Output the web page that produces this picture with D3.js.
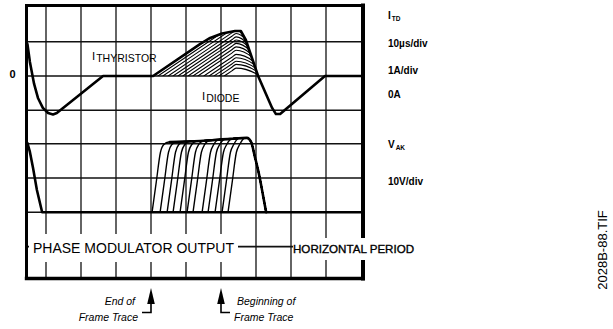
<!DOCTYPE html>
<html>
<head>
<meta charset="utf-8">
<script src="https://cdn.jsdelivr.net/npm/d3@7"></script>
<style>
  html, body { margin: 0; padding: 0; background: #fff; }
  svg { display: block; font-family: "Liberation Sans", Arial, Helvetica, sans-serif; }
</style>
</head>
<body>
<svg id="chart" width="613" height="329"></svg>
<script>
// ---------------- data (time in µs, current in A, voltage in V) ----------------
const gridTimesUs   = [10, 20, 30, 40, 50, 60, 70, 80, 90];
const currentGridA  = [1, 0, -1];
const voltageGridV  = [20, 10, 0, -10];

// I_TD : thyristor / diode current, outer trace
const currentTrace = [
  [4.7, 0.93], [5.4, 0.41], [6.6, -0.23], [7.7, -0.64], [9.1, -0.93], [10.6, -1.08],
  [12.0, -1.12], [13.1, -1.08], [26.3, 0], [40.6, 0], [54.0, 0.93], [56.9, 1.11],
  [60.3, 1.24], [64.0, 1.31], [65.7, 1.31], [67.1, 1.05], [70.6, 0], [74.6, -0.93],
  [75.7, -1.11], [76.9, -1.11], [89.7, 0], [100, 0]
];
// successive thyristor current ramps (turn-on time, current reached at turn-off)
const rampStartUs = [40.6, 42.0, 43.4, 44.9, 46.3, 47.7, 49.1, 50.6, 52.0, 53.4, 55.1, 56.6, 58.0, 59.4, 60.9];
const rampPeakA   = [1.64, 1.54, 1.44, 1.34, 1.24, 1.14, 1.05, 0.95, 0.85, 0.75, 0.63, 0.53, 0.43, 0.34, 0.23];
const turnOffUs   = 64.3;

// V_AK : anode-cathode voltage
const vakTrace = [[4.7, 20.2], [5.4, 17.6], [6.3, 12.9], [7.4, 6.5], [8.9, 0], [100, 0]];
const vakTop = [
  [45.4, 20.5], [54.0, 20.8], [62.6, 21.4], [67.4, 21.7], [68.6, 20.5],
  [69.7, 16.1], [70.9, 10.9], [72.0, 5.0], [72.9, 0]
];
const vakRiseStartUs = [40.3, 42.6, 44.6, 46.3, 48.3, 50.3, 52.0, 54.6, 56.3, 58.3, 60.3, 62.0];
const vakRiseShape   = [[0, 0], [1.2, 8.8], [2.4, 17.5], [3.3, 19.7]]; // offset µs, V

const frameMarkUs    = [40, 60];
const frameMarkText  = [["End of", "Frame Trace"], ["Beginning of", "Frame Trace"]];
const legendLines    = ["10µs/div", "1A/div", "0A"];

// ---------------- layout ----------------
const svg = d3.select("#chart");
const frame = { x0: 26.5, x1: 363, y0: 5.5, y1: 278.5 };

const x  = d3.scaleLinear().domain([10, 100]).range([46, 361]);
const yI = d3.scaleLinear().domain([0, 1]).range([76, 41.7]);
const yV = d3.scaleLinear().domain([0, 10]).range([212.3, 178]);

svg.append("defs").append("clipPath").attr("id", "screen")
  .append("rect")
  .attr("x", frame.x0).attr("y", frame.y0)
  .attr("width", frame.x1 - frame.x0).attr("height", frame.y1 - frame.y0);

// ---------------- graticule ----------------
const grid = svg.append("g").attr("stroke", "#111").attr("fill", "none");
grid.selectAll("line.v").data(gridTimesUs).join("line")
  .attr("class", "v")
  .attr("x1", d => x(d)).attr("x2", d => x(d))
  .attr("y1", frame.y0).attr("y2", frame.y1)
  .attr("stroke-width", 1.3);
grid.selectAll("line.hi").data(currentGridA).join("line")
  .attr("class", "hi")
  .attr("x1", frame.x0).attr("x2", frame.x1)
  .attr("y1", d => yI(d)).attr("y2", d => yI(d))
  .attr("stroke-width", 1.6);
grid.selectAll("line.hv").data(voltageGridV).join("line")
  .attr("class", "hv")
  .attr("x1", frame.x0).attr("x2", frame.x1)
  .attr("y1", d => yV(d)).attr("y2", d => yV(d))
  .attr("stroke-width", 1.6);

// ---------------- traces ----------------
const traces = svg.append("g").attr("clip-path", "url(#screen)")
  .attr("fill", "none").attr("stroke", "#000")
  .attr("stroke-linejoin", "round").attr("stroke-linecap", "round");

const lineI = d3.line().x(d => x(d[0])).y(d => yI(d[1]));
const lineV = d3.line().x(d => x(d[0])).y(d => yV(d[1]));
const smoothI = d3.line().curve(d3.curveMonotoneX).x(d => x(d[0])).y(d => yI(d[1]));
const smoothV = d3.line().curve(d3.curveMonotoneX).x(d => x(d[0])).y(d => yV(d[1]));

// falling edge of the current, used to join each ramp into it
const fallEdge = currentTrace.filter(d => d[0] >= 65.7 && d[0] <= 70.6);
function fallTimeAt(level) {
  const L = Math.min(level, fallEdge[0][1]);
  for (let i = 0; i < fallEdge.length - 1; i++) {
    const [t0, v0] = fallEdge[i], [t1, v1] = fallEdge[i + 1];
    if (L <= v0 && L >= v1) return t0 + (v0 - L) / (v0 - v1) * (t1 - t0);
  }
  return fallEdge[fallEdge.length - 1][0];
}

// area under the outer ramp envelope, confines the hatching
const envelope = currentTrace.filter(d => d[0] >= 40.6 && d[0] <= 70.6);
svg.select("defs").append("clipPath").attr("id", "rampArea")
  .append("path")
  .attr("d", lineI(envelope) + "Z");

const ramps = traces.append("g").attr("clip-path", "url(#rampArea)");
rampStartUs.forEach((s, i) => {
  const p = rampPeakA[i];
  const slope = p / (turnOffUs - s);
  const join = Math.max(p - 0.2, 0.04);
  const pts = [
    [s, 0],
    [turnOffUs - 1.2, p - 1.2 * slope],
    [turnOffUs, p],
    [fallTimeAt(join), Math.min(join, fallEdge[0][1])],
    [fallEdge[fallEdge.length - 1][0], 0]
  ];
  ramps.append("path").attr("d", smoothI(pts)).attr("stroke-width", 1.1);
});

traces.append("path").attr("d", lineI(currentTrace)).attr("stroke-width", 2.6);

// voltage family
function vakTopAt(t) {
  if (t <= vakTop[0][0]) return vakTop[0][1];
  for (let i = 0; i < vakTop.length - 1; i++) {
    const [t0, v0] = vakTop[i], [t1, v1] = vakTop[i + 1];
    if (t >= t0 && t <= t1) return v0 + (t - t0) / (t1 - t0) * (v1 - v0);
  }
  return vakTop[vakTop.length - 1][1];
}
vakRiseStartUs.forEach(s => {
  const joinT = s + 4.8;
  const pts = vakRiseShape.map(([dt, v]) => [s + dt, v])
    .concat([[joinT, vakTopAt(joinT)]])
    .concat(vakTop.filter(d => d[0] > joinT + 0.3));
  traces.append("path").attr("d", smoothV(pts)).attr("stroke-width", 1.4);
});
traces.append("path").attr("d", smoothV(vakTop)).attr("stroke-width", 2.6);
traces.append("path").attr("d", lineV(vakTrace)).attr("stroke-width", 2.6);

// ---------------- screen frame ----------------
const fr = svg.append("g").attr("stroke", "#000").attr("stroke-linecap", "square");
fr.append("line").attr("x1", frame.x0).attr("x2", frame.x0).attr("y1", frame.y0).attr("y2", frame.y1).attr("stroke-width", 3);
fr.append("line").attr("x1", frame.x0).attr("x2", frame.x1).attr("y1", frame.y0).attr("y2", frame.y0).attr("stroke-width", 2.8);
fr.append("line").attr("x1", frame.x1).attr("x2", frame.x1).attr("y1", frame.y0).attr("y2", frame.y1).attr("stroke-width", 4);
fr.append("line").attr("x1", frame.x0).attr("x2", frame.x1).attr("y1", frame.y1).attr("y2", frame.y1).attr("stroke-width", 3.4);

// ---------------- labels inside the screen ----------------
svg.append("rect").attr("x", 29).attr("y", 234).attr("width", 209).attr("height", 28).attr("fill", "#fff");
svg.append("rect").attr("x", 293).attr("y", 238).attr("width", 130).attr("height", 22).attr("fill", "#fff");

svg.append("text").attr("x", 33).attr("y", 252.5)
  .attr("font-size", 14).text("PHASE MODULATOR OUTPUT");
svg.append("text").attr("x", 293).attr("y", 253)
  .attr("font-size", 11.6).attr("stroke", "#000").attr("stroke-width", 0.35)
  .text("HORIZONTAL PERIOD");

function subLabel(px, py, main, sub, mainSize, subSize, weight) {
  const t = svg.append("text").attr("x", px).attr("y", py).attr("font-weight", weight);
  t.append("tspan").attr("font-size", mainSize).text(main);
  t.append("tspan").attr("font-size", subSize).attr("dy", 2).attr("dx", 1).text(sub);
}
subLabel(92, 60, "I", "THYRISTOR", 11.5, 10.5, 400);
subLabel(202, 100, "I", "DIODE", 11.5, 10.5, 400);

svg.append("text").attr("x", 12.5).attr("y", yI(0) + 2)
  .attr("text-anchor", "middle").attr("font-size", 11).attr("font-weight", 700).text("0");

// ---------------- legend column ----------------
subLabel(388, 18.5, "I", "TD", 10, 6.5, 700);
const legendY = [46.5, 74, 98];
legendLines.forEach((s, i) => {
  svg.append("text").attr("x", 388).attr("y", legendY[i])
    .attr("font-size", 10).attr("font-weight", 700).text(s);
});
subLabel(388, 147.5, "V", "AK", 10, 6.5, 700);
svg.append("text").attr("x", 388).attr("y", 185)
  .attr("font-size", 10).attr("font-weight", 700).text("10V/div");

svg.append("text").attr("transform", "translate(607,250) rotate(-90)")
  .attr("text-anchor", "middle").attr("font-size", 13).text("2028B-88.TIF");

// ---------------- frame trace markers ----------------
frameMarkUs.forEach((t, i) => {
  const ax = x(t);
  const side = i === 0 ? -1 : 1;
  const g = svg.append("g");
  g.append("path")
    .attr("d", `M${ax},288 L${ax - 3.8},304 L${ax + 3.8},304 Z`)
    .attr("fill", "#000");
  g.append("path")
    .attr("d", `M${ax},300 V312.5 H${ax + side * 9}`)
    .attr("fill", "none").attr("stroke", "#000").attr("stroke-width", 1.6);
  const anchor = side < 0 ? "end" : "start";
  g.append("text").attr("x", ax + side * 16).attr("y", 304.5)
    .attr("text-anchor", anchor).attr("font-size", 10.5).attr("font-style", "italic")
    .text(frameMarkText[i][0]);
  g.append("text").attr("x", ax + side * 13).attr("y", 321)
    .attr("text-anchor", anchor).attr("font-size", 10.5).attr("font-style", "italic")
    .text(frameMarkText[i][1]);
});
</script>
</body>
</html>
